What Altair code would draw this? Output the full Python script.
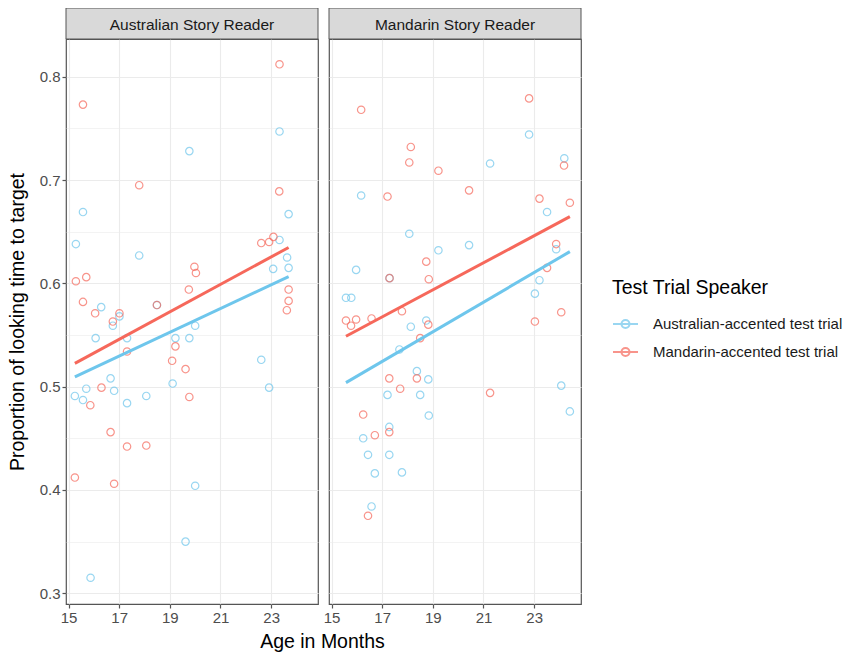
import altair as alt
import pandas as pd

FONT = "Liberation Sans"

speakers = ["Australian-accented test trial", "Mandarin-accented test trial"]
readers = ["Australian Story Reader", "Mandarin Story Reader"]
colors = ["#6ec6ec", "#f6685b"]

x_ticks = [15, 16, 17, 18, 19, 20, 21, 22, 23, 24]
y_ticks = [0.30, 0.35, 0.40, 0.45, 0.50, 0.55, 0.60, 0.65, 0.70, 0.75, 0.80]

# Australian Story Reader panel
ausR_ausT_age = [23.33, 19.77, 15.57, 23.69, 15.29, 17.79, 23.33, 23.63, 23.08, 23.69, 16.29,
                 18.49, 17.01, 16.75, 16.07, 17.31, 19.22, 19.77, 20.00, 22.61, 16.66, 15.70,
                 16.80, 15.25, 15.57, 18.07, 17.31, 19.11, 22.92, 20.00, 19.62, 15.87]
ausR_ausT_prop = [0.747, 0.728, 0.669, 0.667, 0.638, 0.627, 0.642, 0.625, 0.614, 0.615, 0.577,
                  0.579, 0.568, 0.559, 0.547, 0.547, 0.547, 0.547, 0.559, 0.526, 0.508, 0.498,
                  0.496, 0.491, 0.487, 0.491, 0.484, 0.503, 0.499, 0.404, 0.350, 0.315]
ausR_manT_age = [23.33, 15.57, 17.79, 23.32, 15.29, 15.70, 15.57, 16.05, 17.01, 18.49, 16.75,
                 19.97, 20.03, 19.75, 22.61, 22.92, 23.09, 23.69, 23.69, 23.62, 17.31, 19.09,
                 19.22, 19.62, 16.30, 15.86, 19.77, 16.66, 17.31, 18.07, 15.25, 16.80]
ausR_manT_prop = [0.812, 0.773, 0.695, 0.689, 0.602, 0.606, 0.582, 0.571, 0.571, 0.579, 0.563,
                  0.616, 0.610, 0.594, 0.639, 0.640, 0.645, 0.594, 0.583, 0.574, 0.534, 0.525,
                  0.539, 0.517, 0.499, 0.482, 0.490, 0.456, 0.442, 0.443, 0.412, 0.406]

# Mandarin Story Reader panel
manR_ausT_age = [22.80, 24.19, 21.26, 16.17, 23.51, 18.07, 20.43, 19.22, 23.87, 15.97, 17.29,
                 23.21, 23.03, 15.57, 15.78, 18.74, 18.13, 17.68, 18.37, 18.82, 17.21, 18.50,
                 18.84, 17.28, 24.07, 24.41, 16.25, 16.44, 17.28, 16.71, 17.78, 16.58]
manR_ausT_prop = [0.744, 0.721, 0.716, 0.685, 0.669, 0.648, 0.637, 0.632, 0.633, 0.613, 0.605,
                  0.603, 0.590, 0.586, 0.586, 0.564, 0.558, 0.536, 0.515, 0.507, 0.492, 0.492,
                  0.472, 0.461, 0.501, 0.476, 0.450, 0.434, 0.434, 0.416, 0.417, 0.384]
manR_manT_age = [22.80, 16.17, 18.13, 18.07, 19.22, 24.18, 20.43, 17.21, 23.21, 24.41, 23.87,
                 18.74, 17.29, 18.84, 23.51, 24.07, 17.78, 15.57, 15.97, 15.77, 16.58, 23.03,
                 18.82, 18.50, 17.28, 18.37, 17.71, 21.26, 16.25, 16.71, 17.28, 16.44]
manR_manT_prop = [0.779, 0.768, 0.732, 0.717, 0.709, 0.714, 0.690, 0.684, 0.682, 0.678, 0.638,
                  0.621, 0.605, 0.604, 0.615, 0.572, 0.573, 0.564, 0.565, 0.559, 0.566, 0.563,
                  0.560, 0.547, 0.508, 0.508, 0.498, 0.494, 0.473, 0.453, 0.456, 0.375]


def frame(ages_a, props_a, ages_m, props_m):
    rows = []
    for a, p in zip(ages_a, props_a):
        rows.append({"age": a, "prop": p, "speaker": speakers[0]})
    for a, p in zip(ages_m, props_m):
        rows.append({"age": a, "prop": p, "speaker": speakers[1]})
    return pd.DataFrame(rows)


df_aus = frame(ausR_ausT_age, ausR_ausT_prop, ausR_manT_age, ausR_manT_prop)
df_man = frame(manR_ausT_age, manR_ausT_prop, manR_manT_age, manR_manT_prop)

W, H, STRIP = 252, 565, 31
xscale = alt.Scale(domain=[14.9, 24.85], nice=False, zero=False)
yscale = alt.Scale(domain=[0.2896, 0.8365], nice=False, zero=False)

legend = alt.Legend(
    title="Test Trial Speaker", orient="none", legendX=546, legendY=240,
    symbolType="M-1,0L1,0M0.32,0A0.32,0.32,0,1,1,-0.32,0A0.32,0.32,0,1,1,0.32,0",
    symbolSize=625, symbolStrokeWidth=2, symbolFillColor="transparent",
    titleFontSize=19.5, titleFont=FONT, titleFontWeight="normal", titleColor="#000000",
    labelFontSize=15, labelFont=FONT, labelColor="#1a1a1a", labelOffset=14, labelLimit=400,
    rowPadding=6, titlePadding=12, padding=0,
)
color = alt.Color("speaker:N", scale=alt.Scale(domain=speakers, range=colors), legend=legend)

x_major = "datum.value % 2 == 1"
y_major = "round(datum.value * 20) % 2 == 0"


def panel(df, reader, left):
    xaxis = alt.Axis(
        values=x_ticks,
        labelExpr=f"{x_major} ? datum.label : ''",
        tickOpacity={"condition": {"test": x_major, "value": 1}, "value": 0},
        gridWidth={"condition": {"test": x_major, "value": 1.1}, "value": 0.6},
        title="Age in Months" if left else None,
        titleX=256, titleY=43, titleBaseline="alphabetic", titleAnchor="middle",
    )
    if left:
        yaxis = alt.Axis(
            values=y_ticks, format=".1f",
            labelExpr=f"{y_major} ? datum.label : ''",
            tickOpacity={"condition": {"test": y_major, "value": 1}, "value": 0},
            gridWidth={"condition": {"test": y_major, "value": 1.1}, "value": 0.6},
            title="Proportion of looking time to target",
            titleX=-57.5, titleY=H / 2, titleBaseline="top", titleAngle=270,
        )
    else:
        yaxis = alt.Axis(
            values=y_ticks, labels=False, ticks=False, title=None,
            gridWidth={"condition": {"test": y_major, "value": 1.1}, "value": 0.6},
        )
    base = alt.Chart(df)
    pts = base.mark_point(shape="circle", filled=False, size=55, strokeWidth=1.2, opacity=0.7).encode(
        x=alt.X("age:Q", scale=xscale, axis=xaxis),
        y=alt.Y("prop:Q", scale=yscale, axis=yaxis),
        color=color,
    )
    lines = base.transform_regression("age", "prop", groupby=["speaker"]).mark_line(strokeWidth=3).encode(
        x=alt.X("age:Q", scale=xscale),
        y=alt.Y("prop:Q", scale=yscale),
        color=color,
    )
    sdf = pd.DataFrame({"reader": [reader]})
    strip_rect = alt.Chart(sdf).mark_rect(fill="#d9d9d9", stroke="#555555", strokeWidth=1).encode(
        x=alt.value(0), x2=alt.value(W), y=alt.value(-STRIP), y2=alt.value(0)
    )
    strip_text = alt.Chart(sdf).mark_text(fontSize=15.5, font=FONT, color="#1a1a1a", baseline="middle").encode(
        x=alt.value(W / 2), y=alt.value(-STRIP / 2 + 1), text="reader:N"
    )
    return alt.layer(pts, lines, strip_rect, strip_text).properties(width=W, height=H)


chart = alt.hconcat(
    panel(df_aus, readers[0], True),
    panel(df_man, readers[1], False),
    spacing=11, bounds="flush",
).properties(
    autosize=alt.AutoSizeParams(type="none"),
    padding={"left": 58, "top": 31, "right": 784, "bottom": 606},
).configure_view(
    stroke="#555555", strokeWidth=1.2
).configure_axis(
    labelFont=FONT, labelFontSize=15, labelColor="#4d4d4d", labelPadding=2,
    tickColor="#555555", tickSize=4, tickWidth=1.2, domain=False,
    gridColor="#ebebeb",
    titleFont=FONT, titleFontSize=19.5, titleFontWeight="normal", titleColor="#000000",
)

chart.save("out.html", embed_options={"renderer": "svg", "actions": False})
